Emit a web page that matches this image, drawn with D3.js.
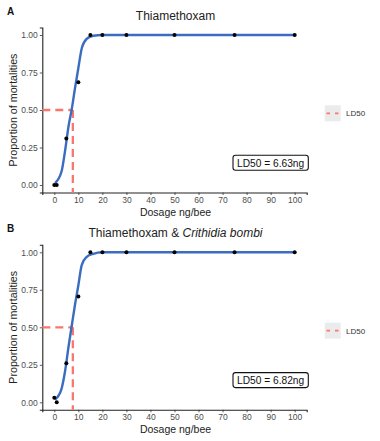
<!DOCTYPE html>
<html><head><meta charset="utf-8">
<script src="https://cdn.jsdelivr.net/npm/d3@7"></script>
<style>body{margin:0;background:#fff}svg{display:block}text{font-family:"Liberation Sans",Arial,sans-serif}</style>
</head><body>
<script>
// ---- data ----
const doses = [0, 1, 5, 10, 15, 20, 30, 50, 75, 100];
const mortalityA = [0, 0, 0.31, 0.685, 1, 1, 1, 1, 1, 1];
const mortalityB = [0.03, 0, 0.26, 0.705, 1, 1, 1, 1, 1, 1];
// fitted curve samples
const curveX = [0.3, 3, 4.4, 6, 7.2, 8.6, 10, 11.4, 13.5, 16.2, 20, 30, 50, 75, 100];
const curveA = [0.013, 0.09, 0.22, 0.40, 0.50, 0.645, 0.78, 0.91, 0.975, 0.995, 1, 1, 1, 1, 1];
const curveB = [0.018, 0.09, 0.20, 0.38, 0.505, 0.65, 0.78, 0.915, 0.97, 0.99, 1, 1, 1, 1, 1];
const xTicks = [0, 10, 20, 30, 40, 50, 60, 70, 80, 90, 100];
const yTicks = [0, 0.25, 0.5, 0.75, 1];
const ld50Pos = [7.7, 7.7];
const ld50Labels = ["LD50 = 6.63ng", "LD50 = 6.82ng"];
const panelLetters = ["A", "B"];

const W = 380, H = 441;
const svg = d3.select("body").append("svg").attr("width", W).attr("height", H);

const x = d3.scaleLinear().domain([-5, 105]).range([42.3, 306.7]);

function panel(idx, dy, pts, curve, titleFn) {
  const g = svg.append("g").attr("transform", `translate(0,${dy})`);
  const y = d3.scaleLinear().domain([-0.05, 1.05]).range([192.5, 27.5]);

  // axes
  const xa = g.append("g").attr("transform", `translate(0,${192.5})`)
    .call(d3.axisBottom(x).tickValues(xTicks).tickSize(2.5).tickPadding(2).tickFormat(d3.format("d")));
  const ya = g.append("g").attr("transform", `translate(42.3,0)`)
    .call(d3.axisLeft(y).tickValues(yTicks).tickSize(2.5).tickPadding(2).tickFormat(d3.format(".2f")));
  [xa, ya].forEach(a => {
    a.select(".domain").attr("stroke", "#222").attr("stroke-width", 1.1);
    a.selectAll(".tick line").attr("stroke", "#333").attr("stroke-width", 0.8);
    a.selectAll(".tick text").attr("fill", "#4d4d4d").attr("font-size", 8.5)
      .attr("font-family", "Liberation Sans, Arial, sans-serif");
  });

  // LD50 dashed lines
  const red = "#F8766D";
  g.append("line").attr("x1", x(-5)).attr("x2", x(ld50Pos[idx]))
    .attr("y1", y(0.5)).attr("y2", y(0.5))
    .attr("stroke", red).attr("stroke-width", 2.3).attr("stroke-dasharray", "8,5");
  g.append("line").attr("x1", x(ld50Pos[idx])).attr("x2", x(ld50Pos[idx]))
    .attr("y1", y(0.5)).attr("y2", y(-0.05))
    .attr("stroke", red).attr("stroke-width", 2.3).attr("stroke-dasharray", "8,5");

  // fitted curve
  const line = d3.line().x(d => x(d[0])).y(d => y(d[1])).curve(d3.curveMonotoneX);
  g.append("path").datum(curveX.map((c, i) => [c, curve[i]]))
    .attr("d", line).attr("fill", "none").attr("stroke", "#3a6cc0").attr("stroke-width", 2.4);

  // points
  g.selectAll("circle.pt").data(doses.map((d, i) => [d, pts[i]])).enter().append("circle")
    .attr("cx", d => x(d[0])).attr("cy", d => y(d[1])).attr("r", 2).attr("fill", "#000");

  // title
  titleFn(g.append("text").attr("x", 175.5).attr("y", 20).attr("text-anchor", "middle")
    .attr("font-size", 12).attr("fill", "#222"));
  // letter
  g.append("text").attr("x", 7).attr("y", 15).attr("font-size", 10).attr("font-weight", "bold")
    .attr("fill", "#111").text(panelLetters[idx]);
  // axis titles
  g.append("text").attr("x", 175.5).attr("y", 215.5).attr("text-anchor", "middle")
    .attr("font-size", 10.5).attr("fill", "#222").text("Dosage ng/bee");
  g.append("text").attr("transform", "translate(16.5,110) rotate(-90)").attr("text-anchor", "middle")
    .attr("font-size", 10.7).attr("fill", "#222").text("Proportion of mortalities");

  // LD50 label box
  g.append("rect").attr("x", 233).attr("y", 155.3).attr("width", 75.3).attr("height", 15)
    .attr("rx", 2.5).attr("fill", "#fff").attr("stroke", "#111").attr("stroke-width", 1.1);
  g.append("text").attr("x", 270.6).attr("y", 166.5).attr("text-anchor", "middle")
    .attr("font-size", 10.2).attr("fill", "#111").text(ld50Labels[idx]);

  // legend
  g.append("rect").attr("x", 324.7).attr("y", 105.3).attr("width", 16).attr("height", 16).attr("fill", "#ebebeb");
  g.append("line").attr("x1", 326.5).attr("x2", 339).attr("y1", 113.3).attr("y2", 113.3)
    .attr("stroke", red).attr("stroke-width", 1.8).attr("stroke-dasharray", "3.5,5");
  g.append("text").attr("x", 346).attr("y", 116.3).attr("font-size", 8).attr("fill", "#333").text("LD50");
}

panel(0, 0, mortalityA, curveA, t => t.text("Thiamethoxam"));
panel(1, 217.3, mortalityB, curveB, t => {
  t.append("tspan").text("Thiamethoxam & ");
  t.append("tspan").attr("font-style", "italic").text("Crithidia bombi");
});
</script>
</body></html>
